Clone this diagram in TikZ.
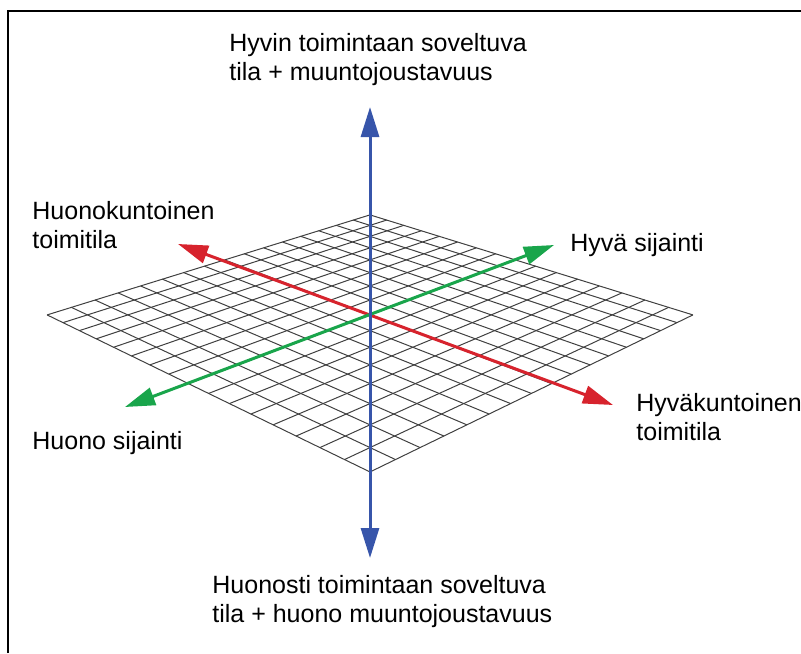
\documentclass[tikz,border=0pt]{standalone}
\usepackage{fontspec}
\setmainfont{Liberation Sans}
\usetikzlibrary{arrows.meta}

\definecolor{axblue}{RGB}{55,85,170}
\definecolor{axred}{RGB}{215,35,45}
\definecolor{axgreen}{RGB}{25,165,75}

\tikzset{
  axisline/.style={line width=1.5pt, {Triangle[length=15pt,width=9pt]}-{Triangle[length=15pt,width=9pt]}},
  gridline/.style={black!75, line width=0.5pt},
  lbl/.style={inner sep=0pt, align=left, anchor=west, font=\fontsize{12.5}{14.5}\selectfont}
}

\begin{document}
\begin{tikzpicture}[x=0.5pt, y=-0.5pt,
  declare function={
    gx(\a,\b)=370+322.9*(\a-\b)/16/(0.7782+0.2218*(\a+\b)/16);
    gy(\a,\b)=-236+550.9/(0.7782+0.2218*(\a+\b)/16);
  }]
  \useasboundingbox (0,0) rectangle (801,653);
  \draw[line width=1pt] (8,653) -- (8,11) -- (801,11);

  % perspective floor grid
  \foreach \k in {0,...,16} {
    \draw[gridline] ({gx(\k,0)},{gy(\k,0)}) -- ({gx(\k,16)},{gy(\k,16)});
    \draw[gridline] ({gx(0,\k)},{gy(0,\k)}) -- ({gx(16,\k)},{gy(16,\k)});
  }

  % axis end points
  \coordinate (blueT) at (370,107);
  \coordinate (blueB) at (370,558);
  \coordinate (redL) at (178,244);
  \coordinate (redR) at (613,405);
  \coordinate (greenR) at (554,245);
  \coordinate (greenL) at (125,407);

  \draw[axisline, axred] (redL) -- (redR);
  \draw[axisline, axgreen] (greenL) -- (greenR);
  \draw[axisline, axblue] (blueB) -- (blueT);

  % labels
  \node[lbl] (upper) at (229,60) {Hyvin toimintaan soveltuva\\tila + muuntojoustavuus};
  \node[lbl] (badcond) at (32,225) {Huonokuntoinen\\toimitila};
  \node[lbl] (goodloc) at (570,245) {Hyvä sijainti};
  \node[lbl] (goodcond) at (636,417) {Hyväkuntoinen\\toimitila};
  \node[lbl] (badloc) at (32,443) {Huono sijainti};
  \node[lbl] (lower) at (212,602) {Huonosti toimintaan soveltuva\\tila + huono muuntojoustavuus};
\end{tikzpicture}
\end{document}
